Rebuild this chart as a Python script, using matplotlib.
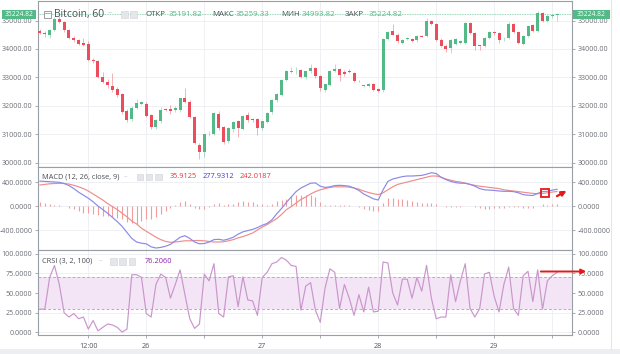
import matplotlib
matplotlib.use("Agg")
import matplotlib.pyplot as plt
from matplotlib.patches import Rectangle, FancyArrowPatch

plt.rcParams['font.family'] = ['Open Sans', 'DejaVu Sans']

# ---------------- data (hourly candles, 25th 02:00 .. 29th 13:00) ----------------
opens = [34630, 34570, 34500, 34680, 35060, 34940, 34680, 34400, 34330, 34210,
         34190, 33600, 33560, 33030, 32850, 32700, 32580, 32410, 31820, 31540,
         31940, 32080, 32080, 31690, 31270, 31450, 31890, 31870, 31840, 31840,
         32260, 32140, 31600, 30620, 30360, 30990, 31010, 31720, 31250, 30770,
         31190, 31450, 31190, 31660, 31530, 31540, 31210, 31430, 31780, 32200,
         32370, 32910, 33190, 33250, 33260, 33000, 33210, 33320, 33050, 32550,
         32730, 33240, 33290, 33200, 33230, 33150, 32870, 32700, 32700, 32770,
         32590, 32550, 34360, 34630, 34510, 34210, 34350, 34360, 34300, 34470,
         34470, 34980, 34870, 34330, 34120, 34040, 34190, 34210, 34210, 34900,
         34570, 34120, 34120, 34390, 34590, 34570, 34370, 34390, 34870, 34590,
         34190, 34470, 34830, 34630, 35250, 34980, 35150, 35191.82]
highs = [34700, 34620, 34710, 35120, 35150, 34990, 34720, 34460, 34360, 34400,
         34290, 33700, 33600, 33180, 32960, 33150, 32650, 32450, 31880, 32000,
         32230, 32180, 32120, 31720, 31520, 31950, 31940, 32040, 31980, 32280,
         32620, 32200, 31640, 30700, 31020, 31100, 31790, 31800, 31300, 31250,
         31450, 31500, 31660, 31780, 31580, 31580, 31480, 31790, 32250, 32450,
         32950, 33250, 33350, 33360, 33300, 33240, 33460, 33360, 33090, 32780,
         33260, 33460, 33320, 33260, 33300, 33180, 32900, 32740, 32790, 32820,
         32620, 34400, 34640, 34890, 34560, 34360, 34420, 34400, 34480, 34510,
         35080, 35020, 34910, 34370, 34160, 34360, 34400, 34300, 34950, 34940,
         34610, 34150, 34420, 34630, 34640, 34600, 34420, 34950, 34910, 34620,
         34510, 34850, 34870, 35330, 35290, 35180, 35230, 35259.33]
lows = [34540, 34430, 34380, 34640, 34900, 34600, 34360, 34250, 34130, 34110,
        33570, 33520, 32980, 32800, 32630, 32500, 32310, 31700, 31440, 31450,
        31880, 32020, 31600, 31200, 31180, 31400, 31800, 31700, 31780, 31790,
        32100, 31560, 30640, 30120, 30200, 30920, 30960, 31150, 30640, 30700,
        31080, 30900, 31150, 31440, 31420, 30960, 31160, 31400, 31720, 32150,
        32330, 32870, 33140, 33120, 32980, 32940, 33160, 32990, 32520, 32470,
        32700, 33200, 32870, 33060, 33140, 32830, 32830, 32660, 32660, 32530,
        32490, 32500, 34320, 34480, 34220, 34160, 34310, 34230, 34260, 34410,
        34430, 34830, 34290, 34080, 33900, 33850, 34150, 34170, 34170, 34530,
        33960, 33960, 34080, 34350, 34510, 34200, 34280, 34350, 34550, 34170,
        34150, 34430, 34600, 34590, 34950, 34940, 35100, 34993.82]
closes = [34570, 34520, 34670, 35060, 34940, 34680, 34390, 34330, 34190, 34150,
          33600, 33560, 33030, 32850, 32730, 32550, 32370, 31780, 31510, 31940,
          32100, 32140, 31640, 31270, 31490, 31860, 31840, 31830, 31940, 32260,
          32140, 31600, 30680, 30380, 30990, 31010, 31750, 31210, 30740, 31220,
          31430, 31210, 31640, 31490, 31490, 31210, 31450, 31760, 32200, 32410,
          32910, 33210, 33230, 33260, 33000, 33210, 33320, 33050, 32610, 32750,
          33230, 33290, 33090, 33110, 33180, 32870, 32860, 32710, 32750, 32550,
          32530, 34360, 34590, 34510, 34270, 34330, 34360, 34270, 34450, 34440,
          34980, 34870, 34330, 34120, 34000, 34330, 34360, 34270, 34900, 34570,
          34120, 34110, 34390, 34590, 34550, 34330, 34390, 34870, 34590, 34210,
          34470, 34810, 34630, 35250, 34980, 35150, 35190, 35224.82]

macd_line = [415, 410, 405, 400, 395, 375, 340, 290, 230, 180,
             130, 70, 0, -60, -120, -190, -260, -340, -440, -540,
             -600, -620, -630, -680, -700, -690, -670, -640, -580, -520,
             -495, -540, -600, -630, -625, -600, -560, -555, -570, -550,
             -520, -470, -430, -410, -390, -360, -320, -290, -230, -130,
             -40, 60, 150, 240, 300, 340, 380, 385, 330, 310,
             320, 340, 345, 340, 330, 300, 260, 200, 160, 120,
             100, 270, 410, 450, 470, 490, 500, 500, 505, 510,
             530, 555, 540, 480, 440, 410, 390, 380, 380, 360,
             330, 290, 270, 265, 260, 250, 245, 245, 240, 220,
             190, 180, 175, 210, 240, 245, 265, 277.9312]
signal_line = [350, 360, 370, 375, 378, 375, 365, 345, 320, 290,
               250, 200, 150, 100, 40, -10, -60, -120, -180, -250,
               -300, -370, -420, -470, -520, -560, -590, -605, -600, -590,
               -580, -580, -575, -575, -580, -590, -600, -600, -595, -580,
               -560, -530, -510, -480, -450, -400, -350, -310, -260, -210,
               -140, -60, -10, 50, 110, 150, 200, 240, 270, 290,
               310, 320, 320, 320, 315, 300, 280, 250, 225, 205,
               190, 220, 270, 320, 360, 380, 400, 420, 440, 460,
               480, 500, 500, 480, 450, 430, 410, 400, 380, 360,
               345, 330, 320, 310, 300, 290, 270, 260, 250, 240,
               230, 220, 210, 205, 210, 220, 232, 242.0187]

crsi = [29.6, 29.6, 69.8, 85.0, 61.0, 25.0, 19.6, 24.0, 17.4, 19.6,
        4.3, 15.2, 2.1, 6.5, 10.8, 9.5, 6.5, 0.5, 4.3, 73.3,
        73.3, 70.0, 24.0, 19.6, 61.0, 74.0, 70.0, 43.6, 61.0, 79.5,
        48.0, 17.4, 5.2, 10.8, 74.0, 65.5, 87.3, 24.0, 19.6, 70.7,
        72.0, 32.7, 70.7, 41.4, 40.0, 21.8, 69.8, 76.4, 87.3, 89.5,
        95.2, 91.7, 85.1, 83.8, 28.3, 58.9, 63.3, 28.3, 13.0, 56.7,
        80.8, 76.4, 30.5, 61.0, 43.6, 21.8, 48.0, 26.1, 57.6, 26.1,
        27.0, 89.5, 88.2, 50.2, 34.9, 67.7, 67.7, 43.6, 69.8, 52.4,
        85.1, 43.6, 17.4, 19.6, 19.6, 73.3, 39.2, 65.5, 87.3, 30.5,
        19.6, 30.5, 74.2, 76.4, 45.8, 26.1, 61.0, 83.0, 30.5, 21.8,
        72.0, 77.7, 39.2, 79.5, 29.6, 65.5, 72.0, 76.206]

x_tick_pos = [10, 22, 34, 46, 58, 70, 82, 94, 106]
x_tick_labels = ['12:00', '26', '', '27', '', '28', '', '29', '']
price_ticks = [30000, 31000, 32000, 33000, 34000, 35000]
macd_ticks = [-400, 0, 400]
crsi_ticks = [0, 25, 50, 75, 100]
crsi_band = [30, 70]
symbol = 'Bitcoin, 60'
macd_title = 'MACD (12, 26, close, 9)'
crsi_title = 'CRSI (3, 2, 100)'

# ---------------- styling ----------------
UP, DOWN = '#53b987', '#eb4d5c'
GRID = '#eef0f4'
SPINE = '#9a9ea6'
TXT = '#6b6e75'
W, H = 620, 354

fig = plt.figure(figsize=(W / 100, H / 100), dpi=100)
fig.patch.set_facecolor('white')


def px_axes(x0, y0, x1, y1):
    return fig.add_axes([x0 / W, 1 - y1 / H, (x1 - x0) / W, (y1 - y0) / H])


ax1 = px_axes(38, 1, 572, 167)
ax2 = px_axes(38, 167, 572, 250)
ax3 = px_axes(38, 250, 572, 335)

n = len(closes)
xs = list(range(n))
XMIN, XMAX = -0.41, 110.1

for ax in (ax1, ax2, ax3):
    ax.set_xlim(XMIN, XMAX)
    for s in ax.spines.values():
        s.set_color(SPINE)
        s.set_linewidth(0.8)
    ax.tick_params(axis='y', which='both', left=True, right=True, labelleft=True,
                   labelright=True, length=2.5, width=0.6, color=SPINE,
                   labelsize=5.1, labelcolor=TXT, pad=1.5)
    ax.tick_params(axis='x', length=2.5, width=0.6, color=SPINE, labelsize=5.2,
                   labelcolor='#555', pad=3)
    ax.set_xticks(x_tick_pos)
    for xp in x_tick_pos:
        ax.axvline(xp, color=GRID, lw=0.7, zorder=0)
    ax.set_facecolor('white')

ax1.set_xticklabels([])
ax2.set_xticklabels([])
ax3.set_xticklabels(x_tick_labels)
ax1.tick_params(axis='x', length=0)
ax2.tick_params(axis='x', length=0)

# ---- price panel ----
ax1.set_ylim(29845, 35690)
ax1.set_yticks(price_ticks)
ax1.set_yticklabels(['%.2f' % v for v in price_ticks])
for v in price_ticks:
    ax1.axhline(v, color=GRID, lw=0.7, zorder=0)

up_idx = [i for i in xs if closes[i] >= opens[i]]
dn_idx = [i for i in xs if closes[i] < opens[i]]
for idx, col in ((up_idx, UP), (dn_idx, DOWN)):
    ax1.vlines(idx, [lows[i] for i in idx], [highs[i] for i in idx],
               color=col, lw=0.6, alpha=0.5, zorder=2)
    ax1.bar(idx, [max(abs(closes[i] - opens[i]), 25) for i in idx], width=0.62,
            bottom=[min(opens[i], closes[i]) for i in idx], color=col,
            linewidth=0, zorder=3)

last_col = UP if closes[-1] >= opens[-1] else DOWN
ax1.axhline(closes[-1], color=last_col, lw=0.6, ls=(0, (1, 1)), alpha=0.8, zorder=1)

# ---- MACD panel ----
ax2.set_ylim(-733, 650)
ax2.set_yticks(macd_ticks)
ax2.set_yticklabels(['%.4f' % v for v in macd_ticks])
for v in macd_ticks:
    ax2.axhline(v, color=GRID, lw=0.7, zorder=0)
macd_hist = [m - s for m, s in zip(macd_line, signal_line)]
ax2.vlines(xs, 0, macd_hist, color='#f29c9c', lw=0.8, zorder=2)
ax2.plot(xs, signal_line, color='#f08c8c', lw=0.85, zorder=3)
ax2.plot(xs, macd_line, color='#8a8ae8', lw=0.85, zorder=4)

# ---- CRSI panel ----
ax3.set_ylim(-3.2, 104.7)
ax3.set_yticks(crsi_ticks)
ax3.set_yticklabels(['%.4f' % v for v in crsi_ticks])
for v in crsi_ticks:
    ax3.axhline(v, color=GRID, lw=0.7, zorder=0)
ax3.axhspan(crsi_band[0], crsi_band[1], color='#f3e5f5', zorder=1, lw=0)
for v in crsi_band:
    ax3.axhline(v, color='#c7a4cb', lw=0.7, ls=(0, (3, 2)), zorder=2)
ax3.plot(xs, crsi, color='#c996cc', lw=0.85, zorder=3)

# ---------------- overlay (headers, tags, annotations) ----------------
ov = fig.add_axes([0, 0, 1, 1], zorder=10)
ov.set_xlim(0, W)
ov.set_ylim(H, 0)
ov.axis('off')
ov.patch.set_alpha(0)

# outer card edges
ov.add_patch(Rectangle((0, 349), W, 5, color='#eceef2', lw=0))
ov.plot([611, 611], [0, 349], color='#e3e6ec', lw=0.8)


def icons(x0, y0, k, size=7, gap=2.3):
    for j in range(k):
        ov.add_patch(Rectangle((x0 + j * (size + gap), y0), size, size,
                               facecolor='#e4e6ea', edgecolor='#cfd2d8', lw=0.4))


# price tags at last close level
fig.canvas.draw()
y_last = H - ax1.transData.transform((0, closes[-1]))[1]
for tx, tw in ((2, 34), (573, 37)):
    ov.add_patch(Rectangle((tx, y_last - 4.6), tw, 9.2, color=UP, lw=0, zorder=5))
    ov.text(tx + tw / 2, y_last + 0.2, '%.2f' % closes[-1], color='white',
            fontsize=4.8, ha='center', va='center', zorder=6)

# main header
ov.add_patch(Rectangle((43.5, 10.5), 7, 7, facecolor='white', edgecolor='#8a8d94', lw=0.6))
ov.plot([44.5, 49.5], [13, 13], color='#8a8d94', lw=0.5)
ov.text(54, 14.2, symbol, fontsize=7.4, color='#4a4d55', va='center', ha='left')
ov.text(108, 13.5, '~', fontsize=5, color='#b0b3ba', va='center')
icons(120.5, 10.5, 2, size=7, gap=2.5)
hdr = [('ОТКР', opens[-1], 145), ('МАКС', highs[-1], 212),
       ('МИН', lows[-1], 281), ('ЗАКР', closes[-1], 345)]
for lab, val, x0 in hdr:
    ov.text(x0, 14.2, lab, fontsize=5.7, color='#4a4d55', va='center', ha='left')
    ov.text(x0 + (24 if lab != 'МИН' else 21), 14.2, '%.2f' % val, fontsize=5.7,
            color=UP, va='center', ha='left')

# MACD header
ov.text(42, 177, macd_title, fontsize=5.3, color='#4a4d55', va='center', ha='left')
ov.text(124, 176.5, '~', fontsize=4.5, color='#b0b3ba', va='center')
icons(136.5, 173.5, 3, size=6.5, gap=2.8)
ov.text(170, 177, '%.4f' % macd_hist[-1], fontsize=5.3, color='#e8343c', va='center')
ov.text(203, 177, '%.4f' % macd_line[-1], fontsize=5.3, color='#3c3cdc', va='center')
ov.text(240, 177, '%.4f' % signal_line[-1], fontsize=5.3, color='#e8343c', va='center')

# CRSI header
ov.text(42, 261.5, crsi_title, fontsize=5.3, color='#4a4d55', va='center', ha='left')
ov.text(99, 261, '~', fontsize=4.5, color='#b0b3ba', va='center')
icons(110, 258, 3, size=6.5, gap=2.9)
ov.text(145, 261.5, '%.4f' % crsi[-1], fontsize=5.3, color='#8e24aa', va='center')

# red annotations
ov.add_patch(Rectangle((541, 189), 8, 8, facecolor='none', edgecolor='#e3191c', lw=1.3))
ov.add_patch(FancyArrowPatch((554.5, 197.5), (569, 189.5), arrowstyle='-|>',
                             mutation_scale=7, color='#e3191c', lw=1.6))
ov.add_patch(FancyArrowPatch((538, 271.5), (589, 271.5), arrowstyle='-|>',
                             mutation_scale=7, color='#e3191c', lw=1.4))

fig.savefig('out.png', dpi=100, facecolor='white')
